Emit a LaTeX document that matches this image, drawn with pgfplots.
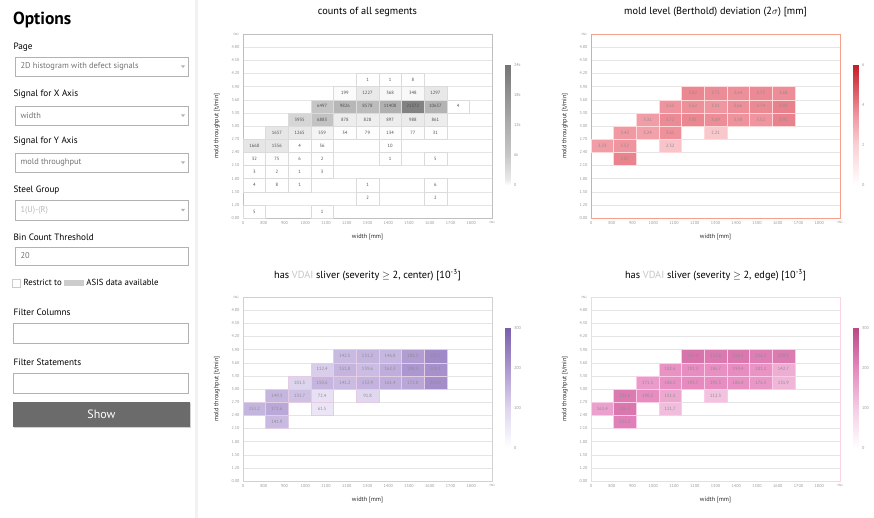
\documentclass[border=0pt]{standalone}
\usepackage{pgfplots}
\pgfplotsset{compat=1.18}
\usepackage{pgfplotstable}
\usepackage{fontspec}
\setmainfont{PT Sans}

\pgfdeclareplotmark{cell}{%
  \pgfpathrectangle{\pgfqpoint{-11.318pt}{-6.571pt}}{\pgfqpoint{22.636pt}{13.143pt}}%
  \pgfusepathqfillstroke}

% counts of all segments: x = width bin centre, y = throughput bin centre
\pgfplotstableread{
x y c
5.5 10.5 1
6.5 10.5 1
7.5 10.5 8
4.5 9.5 199
5.5 9.5 1227
6.5 9.5 368
7.5 9.5 348
8.5 9.5 1297
3.5 8.5 6497
4.5 8.5 9826
5.5 8.5 8578
6.5 8.5 11408
7.5 8.5 21372
8.5 8.5 10657
9.5 8.5 4
2.5 7.5 3935
3.5 7.5 6883
4.5 7.5 878
5.5 7.5 828
6.5 7.5 897
7.5 7.5 988
8.5 7.5 861
1.5 6.5 1657
2.5 6.5 1265
3.5 6.5 559
4.5 6.5 34
5.5 6.5 79
6.5 6.5 134
7.5 6.5 77
8.5 6.5 31
0.5 5.5 1660
1.5 5.5 1556
2.5 5.5 4
3.5 5.5 56
6.5 5.5 10
0.5 4.5 32
1.5 4.5 75
2.5 4.5 6
3.5 4.5 2
6.5 4.5 1
8.5 4.5 5
0.5 3.5 3
1.5 3.5 2
2.5 3.5 1
3.5 3.5 3
0.5 2.5 4
1.5 2.5 8
2.5 2.5 1
5.5 2.5 1
8.5 2.5 6
5.5 1.5 2
8.5 1.5 2
0.5 0.5 5
3.5 0.5 1
}\tabA

% r = mold level deviation, p = sliver centre, m = sliver edge
\pgfplotstableread{
x y r p m
4.5 9.5 3.82 142.5 231.4
5.5 9.5 3.71 151.2 222.8
6.5 9.5 3.64 146.8 226.5
7.5 9.5 3.75 188.3 216.2
8.5 9.5 3.68 221.7 220.9
3.5 8.5 3.55 112.4 182.6
4.5 8.5 3.62 151.8 191.3
5.5 8.5 3.51 139.6 186.7
6.5 8.5 3.66 162.3 190.4
7.5 8.5 3.74 198.5 181.2
8.5 8.5 3.93 209.1 142.7
2.5 7.5 3.31 101.5 171.3
3.5 7.5 3.72 150.6 186.2
4.5 7.5 3.81 141.2 195.7
5.5 7.5 3.69 152.9 191.5
6.5 7.5 3.58 161.4 186.8
7.5 7.5 3.52 172.8 176.3
8.5 7.5 3.91 214.6 131.9
1.5 6.5 3.42 149.3 221.6
2.5 6.5 3.24 131.7 190.2
3.5 6.5 3.61 72.4 151.5
5.5 6.5 2.21 91.8 112.3
0.5 5.5 3.33 151.2 161.4
1.5 5.5 3.52 171.6 226.3
3.5 5.5 2.32 61.5 121.7
1.5 4.5 3.87 141.9 211.2
}\tabB

\pgfplotsset{
  heat/.style={
    scale only axis, width=249pt, height=184pt, anchor=south west,
    xmin=0, xmax=11, ymin=0, ymax=14,
    xtick={0,0.91667,1.83333,2.75,3.66667,4.58333,5.5,6.41667,7.33333,8.25,9.16667,10.08333,11},
    xticklabels={0,800,900,1000,1100,1200,1300,1400,1500,1600,1700,1800,$\infty$},
    ytick={0,1,...,14},
    yticklabels={0.00,1.20,1.50,1.80,2.10,2.40,2.70,3.00,3.30,3.60,3.90,4.20,4.50,4.80,$\infty$},
    major tick length=0pt,
    tick label style={font=\fontsize{4.2}{4.2}\selectfont, text=black!40},
    ymajorgrids, grid style={black!10, line width=0.3pt},
    xlabel={width [mm]}, ylabel={mold throughput [t/min]},
    label style={font=\fontsize{6.3}{7}\selectfont, text=black!85},
    xlabel style={at={(axis description cs:0.5,-0.103)}, anchor=center},
    ylabel style={at={(axis description cs:-0.105,0.5)}, anchor=center},
    title style={font=\fontsize{10.3}{12}\selectfont, at={(axis description cs:0.5,1.085)}, anchor=center},
    colorbar,
    colorbar style={scale only axis, width=5pt, height=120pt,
      at={(parent axis.north east)}, anchor=north west, xshift=5pt, yshift=-31pt,
      axis line style={draw=none}, major tick length=0pt, scaled y ticks=false,
      yticklabel style={font=\fontsize{4.2}{4.2}\selectfont, text=black!40}},
  },
  cellnum/.style={every node near coord/.append style={anchor=center, font=\fontsize{4.6}{4.6}\selectfont, text=#1}},
}

\begin{document}
\begin{tikzpicture}[x=1pt,y=1pt]
\fill[white] (0,0) rectangle (874,518);
\path[use as bounding box] (0,0) rectangle (874,518);

% ---------- left options panel ----------
\fill[black!5] (195,0) rectangle (198,518);
\node[anchor=base west, font=\fontsize{17.5}{20}\selectfont\bfseries] at (9.5,493) {Options};
\tikzset{lab/.style={anchor=west, font=\fontsize{9.2}{11}\selectfont},
         box/.style={draw=black!30, line width=0.5pt, fill=white},
         btxt/.style={anchor=west, font=\fontsize{8.4}{10}\selectfont, text=black!55}}
\node[lab] at (10,471) {Page};
\draw[box] (15,442) rectangle (188,461);
\node[btxt] at (17,451.5) {2D histogram with defect signals};
\fill[black!30] (181,452.5) -- (185,452.5) -- (183,450) -- cycle;

\node[lab] at (10,424) {Signal for X Axis};
\draw[box] (15,393) rectangle (188,412);
\node[btxt] at (17,402.5) {width};
\fill[black!30] (181,403.5) -- (185,403.5) -- (183,401) -- cycle;

\node[lab] at (10,377) {Signal for Y Axis};
\draw[box] (15,346) rectangle (188,365);
\node[btxt] at (17,355.5) {mold throughput};
\fill[black!30] (181,356.5) -- (185,356.5) -- (183,354) -- cycle;

\node[lab] at (10,328) {Steel Group};
\draw[box] (15,298) rectangle (188,318);
\node[btxt, text=black!28] at (17,308) {1(U)-(R)};
\fill[black!30] (181,309) -- (185,309) -- (183,306.5) -- cycle;

\node[lab] at (10,281) {Bin Count Threshold};
\draw[box] (15,253) rectangle (188,271);
\node[btxt] at (17,262) {20};

\draw[black!20, line width=0.5pt] (12,231) rectangle (20,239);
\node[lab, font=\fontsize{8.8}{10}\selectfont] at (20,235) {Restrict to \textcolor{black!20}{\rule[-0.1ex]{20pt}{1.4ex}} ASIS data available};

\node[lab] at (10,206) {Filter Columns};
\draw[box] (13,175) rectangle (188,195);
\node[lab] at (10,156) {Filter Statements};
\draw[box] (13,125) rectangle (188,145);

\fill[black!18] (14,90) rectangle (191,115);
\fill[black!58] (13,91) rectangle (190,116);
\node[white, font=\fontsize{12}{14}\selectfont] at (101.5,103.5) {Show};

% ---------- panel 1: counts ----------
\begin{axis}[heat, at={(243pt,300pt)},
  title={counts of all segments},
  axis line style={black!25},
  colormap={cmgray}{color(0cm)=(white) color(1cm)=(black!8) color(6cm)=(black!22) color(12cm)=(black!32) color(24cm)=(black!54)},
  point meta min=0, point meta max=24000,
  colorbar style={ytick={0,6000,12000,18000,24000}, yticklabels={0,6k,12k,18k,24k}},
]
\addplot[scatter, only marks, mark=cell, point meta=explicit,
  scatter/use mapped color={draw=black!14, fill=mapped color, line width=0.35pt},
  nodes near coords*={\pgfmathprintnumber[fixed,precision=0,1000 sep={},assume math mode=true]{\pgfplotspointmeta}},
  cellnum=black!70]
  table[x=x, y=y, meta=c] {\tabA};
\end{axis}

% ---------- panel 2: mold level ----------
\begin{axis}[heat, at={(591pt,300pt)},
  title={mold level (Berthold) deviation (2$\sigma$) [mm]},
  axis line style={draw={rgb,255:red,245;green,160;blue,140}},
  colormap={cmred}{rgb255(0cm)=(255,255,255) rgb255(2cm)=(250,208,212) rgb255(3.5cm)=(240,150,160) rgb255(6cm)=(195,30,40)},
  point meta min=0, point meta max=6,
  colorbar style={ytick={0,2,4,6}, yticklabels={0,2,4,6}},
]
\addplot[scatter, only marks, mark=cell, point meta=explicit,
  scatter/use mapped color={draw=white!85!red, fill=mapped color, line width=0.3pt},
  nodes near coords*={\pgfmathprintnumber[fixed,fixed zerofill,precision=2,assume math mode=true]{\pgfplotspointmeta}},
  cellnum=black!45]
  table[x=x, y=y, meta=r] {\tabB};
\end{axis}

% ---------- panel 3: sliver centre ----------
\begin{axis}[heat, at={(243pt,37pt)},
  title={has \textcolor{black!22}{VDAI} sliver (severity $\geq$ 2, center) [10\textsuperscript{-3}]},
  axis line style={black!18},
  colormap={cmpur}{rgb255(0cm)=(255,255,255) rgb255(1cm)=(222,213,238) rgb255(2cm)=(172,150,208) rgb255(3cm)=(120,96,170)},
  point meta min=0, point meta max=300,
  colorbar style={ytick={0,100,200,300}, yticklabels={0,100,200,300}},
]
\addplot[scatter, only marks, mark=cell, point meta=explicit,
  scatter/use mapped color={draw=white!80!violet, fill=mapped color, line width=0.3pt},
  nodes near coords*={\pgfmathprintnumber[fixed,fixed zerofill,precision=1,assume math mode=true]{\pgfplotspointmeta}},
  cellnum=black!45]
  table[x=x, y=y, meta=p] {\tabB};
\end{axis}

% ---------- panel 4: sliver edge ----------
\begin{axis}[heat, at={(591pt,37pt)},
  title={has \textcolor{black!22}{VDAI} sliver (severity $\geq$ 2, edge) [10\textsuperscript{-3}]},
  axis line style={draw=magenta!18},
  colormap={cmpink}{rgb255(0cm)=(255,255,255) rgb255(1cm)=(244,204,228) rgb255(2cm)=(230,135,190) rgb255(3cm)=(185,75,135)},
  point meta min=0, point meta max=300,
  colorbar style={ytick={0,100,200,300}, yticklabels={0,100,200,300}},
]
\addplot[scatter, only marks, mark=cell, point meta=explicit,
  scatter/use mapped color={draw=white!80!magenta, fill=mapped color, line width=0.3pt},
  nodes near coords*={\pgfmathprintnumber[fixed,fixed zerofill,precision=1,assume math mode=true]{\pgfplotspointmeta}},
  cellnum=black!45]
  table[x=x, y=y, meta=m] {\tabB};
\end{axis}
\end{tikzpicture}
\end{document}
